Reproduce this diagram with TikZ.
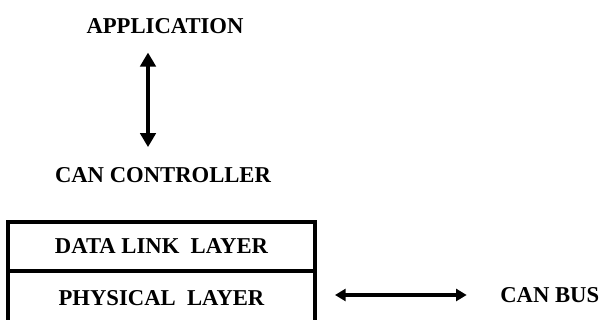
\documentclass[tikz,border=0pt]{standalone}
\usepackage{fontspec}
\setmainfont{Liberation Serif}
\usetikzlibrary{arrows.meta}

\begin{document}
\begin{tikzpicture}[x=0.75pt, y=0.75pt,
  lbl/.style={font=\fontsize{17}{20}\selectfont\bfseries, inner sep=0pt},
  layer/.style={draw, line width=3pt, inner sep=0pt, minimum width=230.25pt},
  vlink/.style={line width=3pt, {Triangle[width=11.5pt,length=10.5pt]}-{Triangle[width=11.5pt,length=10.5pt]}},
  hlink/.style={line width=2.8pt, {Triangle[width=9pt,length=8pt]}-{Triangle[width=9pt,length=8pt]}}]

\useasboundingbox (0,0) rectangle (605,320);
\clip (0,0) rectangle (605,320);

\node[lbl] (app)  at (165,294) {APPLICATION};
\node[lbl] (ctrl) at (163,145) {CAN CONTROLLER};

\node[layer, minimum height=36.75pt] (dl)  at (161.5,73.5) {\fontsize{17}{20}\selectfont\bfseries DATA LINK\ \ LAYER};
\node[layer, minimum height=40.5pt]  (phy) at (161.5,22)   {\fontsize{17}{20}\selectfont\bfseries PHYSICAL\ \ LAYER};

\node[lbl, anchor=west] (bus) at (500,25) {CAN BUS};

\coordinate (ax) at (148,0);

\draw[vlink, shorten <=14pt, shorten >=15pt] (app.south -| ax) -- (ctrl.north -| ax); %app-ctrl
\draw[hlink, shorten <=13.5pt, shorten >=25pt] (phy.east |- bus.west) -- (bus.west); %phy-bus

\end{tikzpicture}
\end{document}
